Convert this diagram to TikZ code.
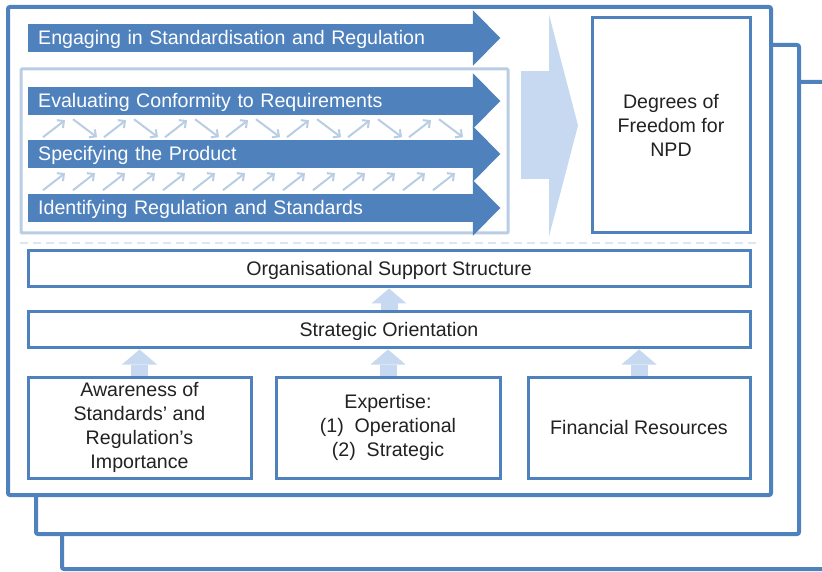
\documentclass[tikz,border=0pt]{standalone}
\usepackage{fontspec}
\setmainfont{Liberation Sans}
\usetikzlibrary{arrows.meta}
\definecolor{mainblue}{HTML}{4F81BD}
\definecolor{paleblue}{HTML}{B9CDE5}
\definecolor{fillblue}{HTML}{C6D9F1}
\definecolor{dashblue}{HTML}{DCE6F2}
\definecolor{textgray}{HTML}{222222}

\begin{document}
\begin{tikzpicture}[x=1pt,y=1pt,font=\fontsize{19.6pt}{24pt}\selectfont]
\useasboundingbox (0,0) rectangle (822,571);

\tikzstyle{framenode} = [draw=mainblue,line width=4pt,fill=white,rounded corners=2pt,inner sep=0pt,outer sep=0pt,anchor=north west];
\tikzstyle{barnode} = [anchor=west,fill=mainblue,text=white,minimum height=28pt,inner xsep=10pt,inner ysep=0pt,text width=425pt,align=left,text height=14pt,text depth=0pt];
\tikzstyle{boxnode} = [draw=mainblue,line width=3pt,fill=white,text=textgray,align=center,inner sep=0pt];
\tikzstyle{oneline} = [text height=14pt,text depth=0pt];
\tikzstyle{hintarrow} = [draw=paleblue,line width=2pt,-{Straight Barb[length=5pt,width=10pt]}];
\tikzstyle{blockarrow} = [draw=fillblue,line width=17pt,-{Triangle[width=35pt,length=15pt,line width=0pt]}];

% stacked frames, back to front
\node [framenode,minimum width=778pt,minimum height=487pt] (f3) at (62,489) {};
\node [framenode,minimum width=763pt,minimum height=489pt] (f2) at (36,526) {};
\node [framenode,minimum width=763pt,minimum height=488pt] (f1) at (8,564) {};

% activities
\node [draw=paleblue,line width=3pt,rounded corners=1pt,outer sep=0pt,anchor=north west,minimum width=487pt,minimum height=164pt] (inbox) at (21,502) {};

\node [barnode] (engage) at (28,533) {Engaging in Standardisation and Regulation};
\node [barnode] (evaluate) at (28,470) {Evaluating Conformity to Requirements};
\node [barnode] (specify) at (28,417) {Specifying the Product};
\node [barnode] (identify) at (28,363) {Identifying Regulation and Standards};

\foreach \n in {engage,evaluate,specify,identify}
  \fill [mainblue] ([xshift=-0.5pt,yshift=13.5pt]\n.north east) -- ([xshift=27pt]\n.east) -- ([xshift=-0.5pt,yshift=-13.5pt]\n.south east) -- cycle;

\foreach \i in {0,...,6} {
  \draw [hintarrow] ([shift={(15+61*\i,-22)}]evaluate.south west) -- ++(22,17);
  \draw [hintarrow] ([shift={(45+61*\i,-4)}]evaluate.south west) -- ++(24,-18);
}
\foreach \i in {0,...,13}
  \draw [hintarrow] ([shift={(15+30*\i,-22)}]specify.south west) -- ++(22,17);

% outcome
\node [boxnode,minimum width=158pt,minimum height=215pt] (degrees) at (671,445.5) {Degrees of\\Freedom for\\NPD};
\coordinate (chevtail) at ([xshift=-69.5pt]degrees.west);
\draw [draw=fillblue,line width=108pt,-{Triangle[width=222pt,length=29pt,line width=0pt]}] (chevtail) -- ([xshift=-12.5pt]degrees.west);

\draw [dashblue,line width=1.5pt,dash pattern=on 8pt off 5pt] (20,328) -- (758,328);

% capabilities
\node [boxnode,oneline,minimum width=722pt,minimum height=36pt] (support) at (389,302) {Organisational Support Structure};
\node [boxnode,oneline,minimum width=722pt,minimum height=36pt,anchor=north] (strategy) at ([yshift=-22pt]support.south) {Strategic Orientation};
\node [boxnode,minimum width=223pt,minimum height=101pt,anchor=north west] (aware) at ([yshift=-26pt]strategy.south west) {Awareness of\\Standards’ and\\Regulation’s\\Importance};
\node [boxnode,minimum width=224pt,minimum height=101pt,anchor=west] (expert) at ([xshift=22pt]aware.east) {Expertise:\\(1)~~Operational\\(2)~~Strategic};
\node [boxnode,oneline,minimum width=222pt,minimum height=101pt,anchor=west] (finance) at ([xshift=25pt]expert.east) {Financial Resources};

\draw [blockarrow] (strategy.north) -- (support.south);
\draw [blockarrow] (aware.north) -- (aware.north |- strategy.south);
\draw [blockarrow] (expert.north) -- (expert.north |- strategy.south);
\draw [blockarrow] (finance.north) -- (finance.north |- strategy.south);

\end{tikzpicture}
\end{document}
